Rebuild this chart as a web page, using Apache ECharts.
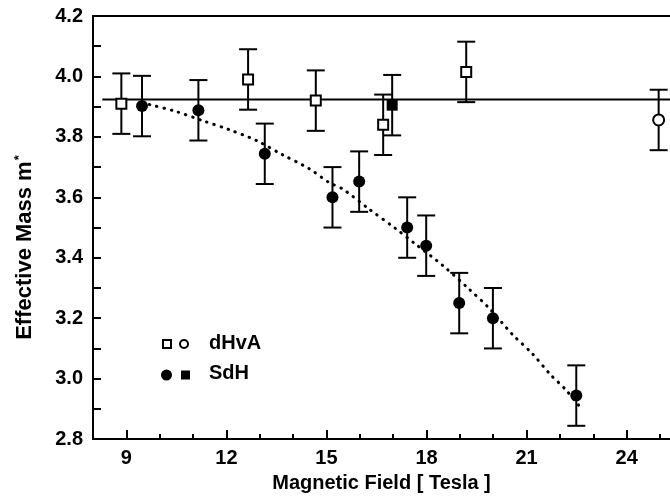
<!DOCTYPE html>
<html><head><meta charset="utf-8">
<script src="https://cdn.jsdelivr.net/npm/echarts@6/dist/echarts.min.js"></script>
<style>html,body{margin:0;padding:0;background:#fff}#c{width:670px;height:498px}</style>
</head><body><div id="c"></div>
<script>
// dHvA open squares
const dhvaSqX = [8.85, 12.65, 14.68, 16.70, 19.19];
const dhvaSqY = [3.91, 3.99, 3.92, 3.84, 4.015];
const dhvaSqErr = [0.1, 0.1, 0.1, 0.1, 0.1];
// dHvA open circle
const dhvaCiX = [24.96];
const dhvaCiY = [3.856];
const dhvaCiErr = [0.1];
// SdH filled circles
const sdhCiX = [9.47, 11.16, 13.15, 15.18, 15.98, 17.42, 17.99, 18.98, 19.99, 22.49];
const sdhCiY = [3.902, 3.888, 3.744, 3.60, 3.652, 3.50, 3.44, 3.25, 3.20, 2.944];
const sdhCiErr = [0.1, 0.1, 0.1, 0.1, 0.1, 0.1, 0.1, 0.1, 0.1, 0.1];
// SdH filled square
const sdhSqX = [16.97];
const sdhSqY = [3.905];
const sdhSqErr = [0.1];
// horizontal solid line
const flatX = [8.28, 25.3];
const flatY = [3.924, 3.924];
// dotted guide curve
const curveX = [9.47, 9.69, 10.49, 11.28, 12.08, 12.88, 13.68, 14.48, 15.08, 15.48, 16.28, 17.07, 17.67, 18.47, 19.27, 19.87, 20.57, 21.17, 21.72, 22.16, 22.65];
const curveY = [3.912, 3.907, 3.884, 3.854, 3.824, 3.789, 3.741, 3.695, 3.649, 3.628, 3.561, 3.497, 3.445, 3.376, 3.297, 3.234, 3.147, 3.083, 3.013, 2.965, 2.90];
// tick labels
const xTickLabels = [9, 12, 15, 18, 21, 24];
const xMinorTicks = [8, 9, 10, 11, 12, 13, 14, 15, 16, 17, 18, 19, 20, 21, 22, 23, 24, 25];
const yTickLabels = [2.8, 3.0, 3.2, 3.4, 3.6, 3.8, 4.0, 4.2];

const FONT = "'Liberation Sans', Arial, sans-serif";
const zip = (a, b) => a.map((v, i) => [v, b[i]]);
const errData = (xs, ys, es) => xs.map((x, i) => [x, ys[i] - es[i], ys[i] + es[i]]);

function errorBar(params, api) {
  const x = api.value(0);
  const lo = api.coord([x, api.value(1)]);
  const hi = api.coord([x, api.value(2)]);
  const hw = 9;
  const st = {stroke: '#000', lineWidth: 2};
  return {type: 'group', children: [
    {type: 'line', shape: {x1: lo[0], y1: lo[1], x2: hi[0], y2: hi[1]}, style: st},
    {type: 'line', shape: {x1: lo[0] - hw, y1: lo[1], x2: lo[0] + hw, y2: lo[1]}, style: st},
    {type: 'line', shape: {x1: hi[0] - hw, y1: hi[1], x2: hi[0] + hw, y2: hi[1]}, style: st}
  ]};
}

const chart = echarts.init(document.getElementById('c'), null, {renderer: 'canvas'});
chart.setOption({
  animation: false,
  backgroundColor: '#fff',
  grid: {left: 93, right: 0, top: 16, bottom: 57},
  xAxis: [
    {type: 'value', position: 'bottom', min: 8, max: 25.3,
     axisLine: {show: true, onZero: false, lineStyle: {color: '#000', width: 2}},
     axisTick: {show: true, inside: true, length: 5, customValues: xMinorTicks, lineStyle: {color: '#000', width: 2}},
     axisLabel: {customValues: xTickLabels, color: '#000', fontFamily: FONT, fontWeight: 'bold', fontSize: 20, margin: 9},
     splitLine: {show: false},
     name: 'Magnetic Field [ Tesla ]', nameLocation: 'middle', nameGap: 30,
     nameTextStyle: {color: '#000', fontFamily: FONT, fontWeight: 'bold', fontSize: 20}},
    {type: 'value', position: 'bottom', min: 8, max: 25.3,
     axisLine: {show: false, onZero: false},
     axisTick: {show: true, inside: true, length: 9, customValues: xTickLabels, lineStyle: {color: '#000', width: 2}},
     axisLabel: {show: false}, splitLine: {show: false}},
    {type: 'value', position: 'top', min: 8, max: 25.3,
     axisLine: {show: true, onZero: false, lineStyle: {color: '#000', width: 2}},
     axisTick: {show: false}, axisLabel: {show: false}, splitLine: {show: false}}
  ],
  yAxis: [
    {type: 'value', position: 'left', min: 2.8, max: 4.2, interval: 0.2,
     axisLine: {show: true, onZero: false, lineStyle: {color: '#000', width: 2}},
     axisTick: {show: true, inside: true, length: 8, lineStyle: {color: '#000', width: 2}},
     minorTick: {show: true, splitNumber: 2, length: 8, lineStyle: {color: '#000', width: 2}},
     axisLabel: {customValues: yTickLabels, formatter: v => v.toFixed(1), color: '#000', fontFamily: FONT, fontWeight: 'bold', fontSize: 20, margin: 10},
     splitLine: {show: false},
     name: '{a|Effective Mass m}{s|*}', nameLocation: 'middle', nameGap: 57,
     nameTextStyle: {padding: [0, 40, 0, 0], rich: {
       a: {color: '#000', fontFamily: FONT, fontWeight: 'bold', fontSize: 22},
       s: {color: '#000', fontFamily: FONT, fontWeight: 'bold', fontSize: 13, verticalAlign: 'top', padding: [0, 0, 10, 1]}
     }}}
  ],
  series: [
    {type: 'line', data: zip(flatX, flatY), symbol: 'none', lineStyle: {color: '#000', width: 2}, z: 2},
    {type: 'line', data: zip(curveX, curveY), symbol: 'none', smooth: 0.3,
     lineStyle: {color: '#000', width: 3, type: [0.5, 7], cap: 'round'}, z: 2},
    {type: 'custom', renderItem: errorBar, data: errData(dhvaSqX, dhvaSqY, dhvaSqErr), encode: {x: 0, y: [1, 2]}, z: 3},
    {type: 'custom', renderItem: errorBar, data: errData(dhvaCiX, dhvaCiY, dhvaCiErr), encode: {x: 0, y: [1, 2]}, z: 3},
    {type: 'custom', renderItem: errorBar, data: errData(sdhCiX, sdhCiY, sdhCiErr), encode: {x: 0, y: [1, 2]}, z: 3},
    {type: 'custom', renderItem: errorBar, data: errData(sdhSqX, sdhSqY, sdhSqErr), encode: {x: 0, y: [1, 2]}, z: 3},
    {type: 'scatter', name: 'dHvA', data: zip(dhvaSqX, dhvaSqY), symbol: 'rect', symbolSize: 10,
     itemStyle: {color: '#fff', borderColor: '#000', borderWidth: 2, opacity: 1}, z: 5},
    {type: 'scatter', name: 'dHvA', data: zip(dhvaCiX, dhvaCiY), symbol: 'circle', symbolSize: 11,
     itemStyle: {color: '#fff', borderColor: '#000', borderWidth: 2, opacity: 1}, z: 5},
    {type: 'scatter', name: 'SdH', data: zip(sdhCiX, sdhCiY), symbol: 'circle', symbolSize: 12,
     itemStyle: {color: '#000', opacity: 1}, z: 5},
    {type: 'scatter', name: 'SdH', data: zip(sdhSqX, sdhSqY), symbol: 'rect', symbolSize: 11,
     itemStyle: {color: '#000', opacity: 1}, z: 5}
  ],
  graphic: [
    {type: 'rect', shape: {x: 163, y: 340, width: 8, height: 8}, style: {fill: '#fff', stroke: '#000', lineWidth: 2}},
    {type: 'circle', shape: {cx: 184, cy: 344, r: 4}, style: {fill: '#fff', stroke: '#000', lineWidth: 2}},
    {type: 'text', left: 209, top: 333, style: {text: 'dHvA', fill: '#000', font: 'bold 20px ' + FONT}},
    {type: 'circle', shape: {cx: 166.5, cy: 375, r: 5.5}, style: {fill: '#000'}},
    {type: 'rect', shape: {x: 181, y: 370.5, width: 9, height: 9}, style: {fill: '#000'}},
    {type: 'text', left: 209, top: 363, style: {text: 'SdH', fill: '#000', font: 'bold 20px ' + FONT}}
  ]
});
</script></body></html>
